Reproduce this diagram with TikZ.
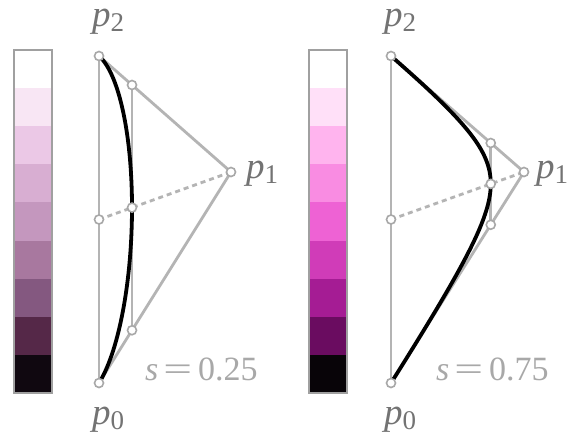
\documentclass[tikz,border=0pt]{standalone}
\usepackage{graphicx}
\usepackage{fontspec}
\setmainfont{Liberation Serif}
\definecolor{lineg}{HTML}{B4B4B4}
\definecolor{circg}{HTML}{A8A8A8}
\definecolor{labg}{HTML}{737373}
\definecolor{slabg}{HTML}{A8A8A8}
\definecolor{barg}{HTML}{A0A0A0}
% left bar colours
\definecolor{La}{HTML}{FFFFFF}
\definecolor{Lb}{HTML}{F8E6F4}
\definecolor{Lc}{HTML}{EBC8E6}
\definecolor{Ld}{HTML}{D8AED2}
\definecolor{Le}{HTML}{C497BE}
\definecolor{Lf}{HTML}{A8789F}
\definecolor{Lg}{HTML}{845880}
\definecolor{Lh}{HTML}{552848}
\definecolor{Li}{HTML}{100810}
% right bar colours
\definecolor{Ra}{HTML}{FFFFFF}
\definecolor{Rb}{HTML}{FFE0F8}
\definecolor{Rc}{HTML}{FFB4EE}
\definecolor{Rd}{HTML}{F98CE2}
\definecolor{Re}{HTML}{EE62D4}
\definecolor{Rf}{HTML}{D03CB8}
\definecolor{Rg}{HTML}{A51C94}
\definecolor{Rh}{HTML}{6A0C60}
\definecolor{Ri}{HTML}{080408}
\newcommand\plab[1]{\textit{p}\raisebox{-5pt}{\fontsize{27}{27}\selectfont #1}}
\begin{document}
\begin{tikzpicture}[x=1pt,y=-1pt,
  gline/.style={draw=lineg,line width=2.8pt,line cap=round},
  gdash/.style={draw=lineg,line width=2.8pt,dash pattern=on 5pt off 4pt},
  curveline/.style={draw=black,line width=3.8pt,line cap=round},
  ptc/.style={circle,draw=circg,fill=white,line width=1.6pt,minimum size=9pt,inner sep=0pt},
  plabel/.style={text=labg,font=\fontsize{37}{37}\selectfont,inner sep=0pt,anchor=base west,text height=17pt,text depth=9pt},
  slabel/.style={text=slabg,font=\fontsize{34}{34}\selectfont,inner sep=0pt,anchor=base west,text height=23pt,text depth=1pt},
  barframe/.style={draw=barg,line width=1.5pt}]
\useasboundingbox (0,0) rectangle (572,434);
\fill[white] (0,0) rectangle (572,434);

% ---------- colour bars ----------
\foreach \c [count=\i from 0] in {La,Lb,Lc,Ld,Le,Lf,Lg,Lh,Li}
  \fill[\c] (14,{50+\i*38.11}) rectangle (52,{50+(\i+1)*38.11});
\draw[barframe] (14,50) rectangle (52,393);
\foreach \c [count=\i from 0] in {Ra,Rb,Rc,Rd,Re,Rf,Rg,Rh,Ri}
  \fill[\c] (309,{50+\i*38.11}) rectangle (347,{50+(\i+1)*38.11});
\draw[barframe] (309,50) rectangle (347,393);

% ---------- left panel (s = 0.25) ----------
\coordinate (A0) at (99,383);
\coordinate (A1) at (231,172);
\coordinate (A2) at (99,56);
\coordinate (Am) at (99,219.5);
\coordinate (Aq2) at (132,85);
\coordinate (Aq0) at (132,330.25);
\coordinate (Ac) at (132,207.6);
\draw[gline] (A2) -- (A0);
\draw[gline] (A2) -- (A1) -- (A0);
\draw[gline] (Aq2) -- (Aq0);
\draw[gdash] (Am) -- (A1);
\draw[curveline] plot[domain=0:1,samples=90,variable=\t]
  ({((1-\t)^2*99+2*\t*(1-\t)*(1/3)*231+\t^2*99)/((1-\t)^2+2*\t*(1-\t)*(1/3)+\t^2)},
   {((1-\t)^2*383+2*\t*(1-\t)*(1/3)*172+\t^2*56)/((1-\t)^2+2*\t*(1-\t)*(1/3)+\t^2)});
\foreach \p in {A0,A1,A2,Am,Aq2,Aq0,Ac}
  \node[ptc] (c\p) at (\p) {};
\node[plabel] (lA2) at (92,26) {\plab{2}};
\node[plabel] (lA1) at (246,178) {\plab{1}};
\node[plabel] (lA0) at (92,424) {\plab{0}};
\node[slabel] (sA) at (145,380) {\textit{s}\hspace{5pt}\scalebox{1.5}[1]{=}\hspace{6pt}0.25};

% ---------- right panel (s = 0.75) ----------
\coordinate (B0) at (391,383);
\coordinate (B1) at (524,172);
\coordinate (B2) at (391,56);
\coordinate (Bm) at (391,219.5);
\coordinate (Bq2) at (490.75,143);
\coordinate (Bq0) at (490.75,224.75);
\coordinate (Bc) at (490.75,183.9);
\draw[gline] (B2) -- (B0);
\draw[gline] (B2) -- (B1) -- (B0);
\draw[gline] (Bq2) -- (Bq0);
\draw[gdash] (Bm) -- (B1);
\draw[curveline] plot[domain=0:1,samples=120,variable=\t]
  ({((1-\t)^2*391+2*\t*(1-\t)*3*524+\t^2*391)/((1-\t)^2+2*\t*(1-\t)*3+\t^2)},
   {((1-\t)^2*383+2*\t*(1-\t)*3*172+\t^2*56)/((1-\t)^2+2*\t*(1-\t)*3+\t^2)});
\foreach \p in {B0,B1,B2,Bm,Bq2,Bq0,Bc}
  \node[ptc] (c\p) at (\p) {};
\node[plabel] (lB2) at (384,26) {\plab{2}};
\node[plabel] (lB1) at (536,178) {\plab{1}};
\node[plabel] (lB0) at (384,424) {\plab{0}};
\node[slabel] (sB) at (436,380) {\textit{s}\hspace{5pt}\scalebox{1.5}[1]{=}\hspace{6pt}0.75};
\end{tikzpicture}
\end{document}
